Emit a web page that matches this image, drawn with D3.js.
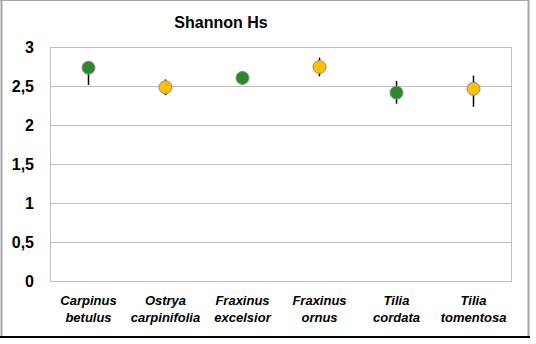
<!DOCTYPE html>
<html><head><meta charset="utf-8">
<script src="https://cdn.jsdelivr.net/npm/d3@7"></script>
<style>body{margin:0;background:#fff}svg{display:block}</style>
</head><body>
<script>
const categories = [["Carpinus","betulus"],["Ostrya","carpinifolia"],["Fraxinus","excelsior"],["Fraxinus","ornus"],["Tilia","cordata"],["Tilia","tomentosa"]];
const means = [2.73, 2.48, 2.60, 2.74, 2.41, 2.46];
const lower = [2.51, 2.38, 2.51, 2.62, 2.27, 2.23];
const upper = [2.81, 2.58, 2.64, 2.86, 2.56, 2.63];
const colors = ["#2a8a2a","#ffc000","#2a8a2a","#ffc000","#2a8a2a","#ffc000"];
const yTicks = [0, 0.5, 1, 1.5, 2, 2.5, 3];
const yLabels = ["0","0,5","1","1,5","2","2,5","3"];
const title = "Shannon Hs";

const W = 536, H = 344;
const svg = d3.select("body").append("svg").attr("width", W).attr("height", H);
const font = "'Liberation Sans', Arial, sans-serif";

// outer border
svg.append("line").attr("x1",1.5).attr("x2",1.5).attr("y1",0).attr("y2",337).attr("stroke","#a6a6a6").attr("stroke-width",2);
svg.append("line").attr("x1",0).attr("x2",529).attr("y1",0.5).attr("y2",0.5).attr("stroke","#a6a6a6").attr("stroke-width",1);
svg.append("line").attr("x1",528.5).attr("x2",528.5).attr("y1",0).attr("y2",337).attr("stroke","#a6a6a6").attr("stroke-width",2);
svg.append("line").attr("x1",0).attr("x2",530).attr("y1",337).attr("y2",337).attr("stroke","#000").attr("stroke-width",2);

const x = d3.scaleBand().domain(d3.range(categories.length)).range([50, 512]);
const y = d3.scaleLinear().domain([0, 3]).range([280.7, 46.7]);

// gridlines
svg.append("g").selectAll("line").data(yTicks).join("line")
  .attr("x1", 50).attr("x2", 512)
  .attr("y1", d => Math.round(y(d)) + 0.5).attr("y2", d => Math.round(y(d)) + 0.5)
  .attr("stroke", "#bfbfbf").attr("stroke-width", 1);
// plot area sides
svg.append("line").attr("x1",50.5).attr("x2",50.5).attr("y1",Math.round(y(3))+0.5).attr("y2",Math.round(y(0))+0.5).attr("stroke","#bfbfbf");
svg.append("line").attr("x1",511.5).attr("x2",511.5).attr("y1",Math.round(y(3))+0.5).attr("y2",Math.round(y(0))+0.5).attr("stroke","#bfbfbf");

// y axis labels
const yAxis = d3.axisLeft(y).tickValues(yTicks).tickFormat((d,i) => yLabels[i]).tickSize(0).tickPadding(0);
const ga = svg.append("g").attr("transform","translate(34,0)").call(yAxis);
ga.select(".domain").remove();
ga.selectAll("text").attr("font-family", font).attr("font-weight","bold").attr("font-size",16).attr("fill","#000").attr("dy","0.36em");

// x labels
const gx = svg.append("g");
categories.forEach((c, i) => {
  const t = gx.append("text").attr("x", x(i) + x.bandwidth()/2).attr("text-anchor","middle")
    .attr("font-family", font).attr("font-weight","bold").attr("font-style","italic").attr("font-size",13).attr("fill","#000");
  t.append("tspan").attr("x", x(i) + x.bandwidth()/2).attr("y", 305).text(c[0]);
  t.append("tspan").attr("x", x(i) + x.bandwidth()/2).attr("y", 322).text(c[1]);
});

// error bars
svg.append("g").selectAll("line").data(means).join("line")
  .attr("x1", (d,i) => x(i) + x.bandwidth()/2).attr("x2", (d,i) => x(i) + x.bandwidth()/2)
  .attr("y1", (d,i) => y(lower[i])).attr("y2", (d,i) => y(upper[i]))
  .attr("stroke", "#000").attr("stroke-width", 1.5);

// points
svg.append("g").selectAll("circle").data(means).join("circle")
  .attr("cx", (d,i) => x(i) + x.bandwidth()/2).attr("cy", d => y(d)).attr("r", 6.5)
  .attr("fill", (d,i) => colors[i]).attr("stroke", "#8c8c8c").attr("stroke-width", 1);

// title
svg.append("text").attr("x", 221).attr("y", 28).attr("text-anchor","middle")
  .attr("font-family", font).attr("font-weight","bold").attr("font-size",16).attr("fill","#000").text(title);
</script>
</body></html>
